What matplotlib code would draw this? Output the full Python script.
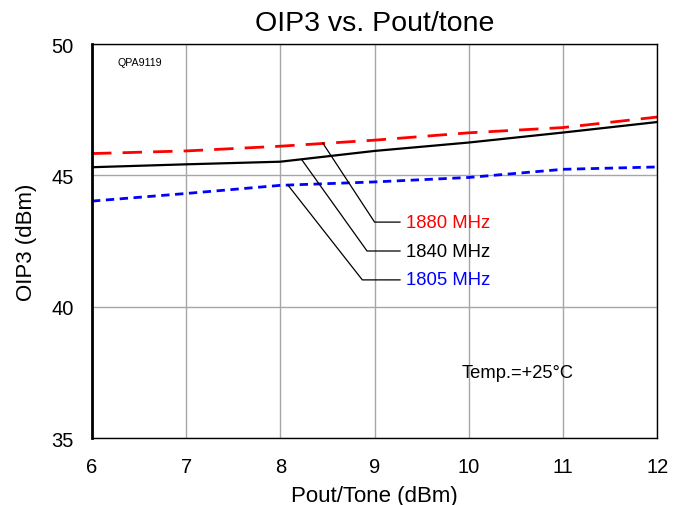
import matplotlib
matplotlib.use("Agg")
import matplotlib.pyplot as plt

plt.rcParams['font.family'] = ['Liberation Sans', 'DejaVu Sans']

pout = [6, 7, 8, 9, 10, 11, 12]
oip3_1880 = [45.83, 45.93, 46.11, 46.34, 46.62, 46.82, 47.22]
oip3_1840 = [45.31, 45.42, 45.52, 45.93, 46.25, 46.63, 47.03]
oip3_1805 = [44.02, 44.31, 44.62, 44.75, 44.92, 45.23, 45.32]

labels = ["1880 MHz", "1840 MHz", "1805 MHz"]
colors = ["#FF0000", "#000000", "#0000FF"]
# leader lines: (start on curve, bend)
leaders = [((8.45, 46.23), (9.00, 43.22)),
           ((8.23, 45.58), (8.92, 42.12)),
           ((8.08, 44.63), (8.87, 41.02))]

fig = plt.figure(figsize=(6.74, 5.06), dpi=100)
ax = fig.add_axes([0.1365, 0.1324, 0.8385, 0.7786])

ax.plot(pout, oip3_1880, color=colors[0], lw=2, dashes=(7, 4))
ax.plot(pout, oip3_1840, color=colors[1], lw=1.6)
ax.plot(pout, oip3_1805, color=colors[2], lw=2, dashes=(3, 2))

for (start, bend), lab, col in zip(leaders, labels, colors):
    ax.plot([start[0], bend[0], 9.27], [start[1], bend[1], bend[1]],
            color='black', lw=0.9)
    ax.text(9.33, bend[1], lab, color=col, fontsize=13.3, va='center', ha='left')

ax.set_xlim(6, 12)
ax.set_ylim(35, 50)
ax.set_xticks(range(6, 13))
ax.set_yticks([35, 40, 45, 50])
ax.grid(True, color='#A6A6A6', lw=1)
ax.set_axisbelow(True)
ax.tick_params(labelsize=14.5, length=0)
ax.tick_params(axis='x', pad=14)
ax.tick_params(axis='y', pad=13)
for s in ax.spines.values():
    s.set_color('black')
    s.set_linewidth(1)
ax.spines['left'].set_linewidth(2)

ax.set_title("OIP3 vs. Pout/tone", fontsize=20.5, pad=10)
ax.set_xlabel("Pout/Tone (dBm)", fontsize=16, labelpad=6)
ax.set_ylabel("OIP3 (dBm)", fontsize=16)
ax.yaxis.set_label_coords(-0.097, 0.5)

ax.text(6.27, 49.3, "QPA9119", fontsize=7.7, va='center')
ax.text(9.92, 37.5, "Temp.=+25°C", fontsize=13.2, va='center')

fig.savefig("out.png", dpi=100)
